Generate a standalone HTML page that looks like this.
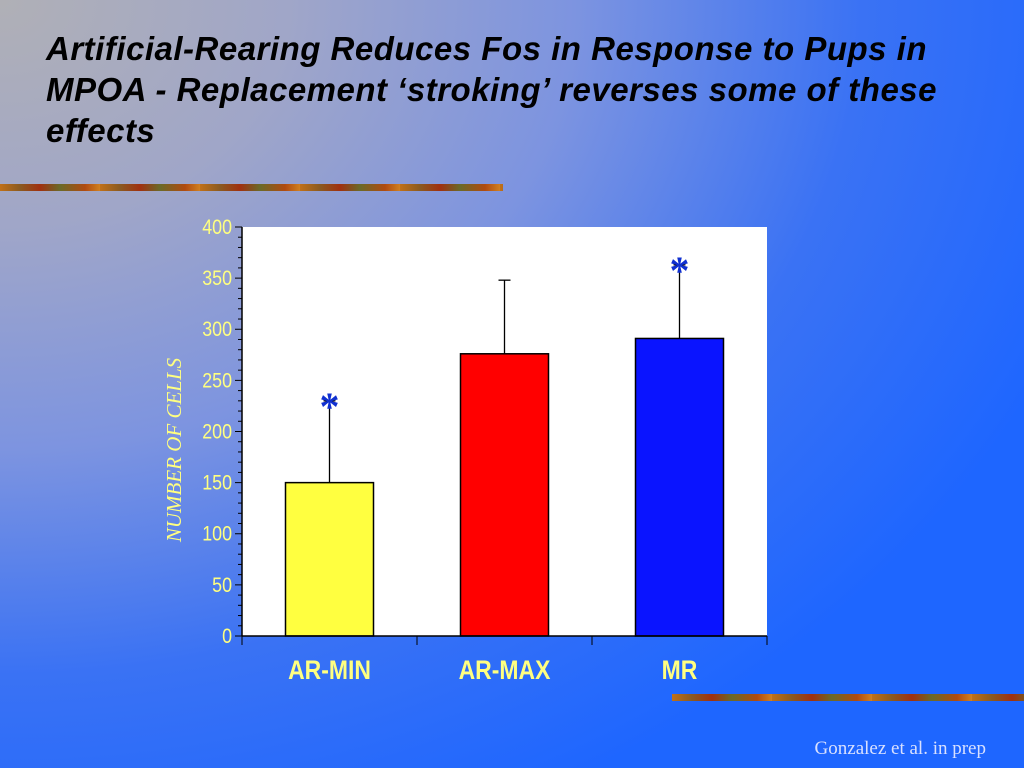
<!DOCTYPE html>
<html><head><meta charset="utf-8"><style>
html,body{margin:0;padding:0;width:1024px;height:768px;overflow:hidden}
body{background:radial-gradient(ellipse 1150px 900px at 0 0,#b0b0b6 0%,#a0a6c8 25%,#7d94e0 50%,#3a72f4 75%,#1e66ff 100%);position:relative;font-family:"Liberation Sans",sans-serif}
.title{position:absolute;left:46px;top:28px;width:940px;font-size:33px;line-height:41px;font-weight:bold;font-style:italic;color:#000;margin:0;letter-spacing:0.5px}
.band{position:absolute;height:7px;background:repeating-linear-gradient(90deg,#c07018 0,#8a5a20 20px,#a03010 40px,#6a6a28 60px,#b04a10 85px,#d08020 100px)}
.credit{position:absolute;right:38px;top:738px;font-family:"Liberation Serif",serif;font-size:19px;color:#d8e0ff}
</style></head><body>
<h1 class="title">Artificial-Rearing Reduces Fos in Response to Pups in MPOA - Replacement ‘stroking’ reverses some of these effects</h1>
<div class="band" style="left:0;top:184px;width:503px"></div>
<div class="band" style="left:672px;top:694px;width:352px"></div>
<svg id="chart" width="1024" height="768" style="position:absolute;left:0;top:0"></svg>
<div class="credit">Gonzalez et al. in prep</div>
<script>
const categories=["AR-MIN","AR-MAX","MR"];
const values=[150,276,291];
const errors=[230,348,363];
const colors=["#ffff40","#ff0000","#0a14ff"];
const significant=[true,false,true];
const yTicks=[0,50,100,150,200,250,300,350,400];
const NS="http://www.w3.org/2000/svg";
const svg=document.getElementById('chart');
const L=242,R=767,T=227,B=636,yMax=400;
const y=v=>B-(v/yMax)*(B-T);
const bandW=(R-L)/categories.length;
const xC=i=>L+bandW*(i+0.5);
function mk(tag,a,txt){const e=document.createElementNS(NS,tag);for(const k in a)e.setAttribute(k,a[k]);if(txt!==undefined)e.textContent=txt;svg.appendChild(e);return e;}
let e=mk('rect',{x:L,y:T,width:R-L,height:B-T,fill:'#fff'});


for(let v=0;v<=yMax;v+=10){const major=v%50===0;mk('line',{x1:L-(major?7:4),x2:L,y1:y(v),y2:y(v),stroke:'#000','stroke-width':1});}
yTicks.forEach(v=>{const tx=L-10;const t=mk('text',{x:tx,y:y(v)+7,'text-anchor':'end','font-size':21,fill:'#ffff80',transform:`translate(${tx} 0) scale(0.85 1) translate(${-tx} 0)`},v);

});
categories.forEach((c,i)=>{
 const cx=xC(i),w=88;
 mk('line',{x1:cx,x2:cx,y1:y(errors[i]),y2:y(values[i]),stroke:'#000','stroke-width':1.3});
 mk('line',{x1:cx-6,x2:cx+6,y1:y(errors[i]),y2:y(errors[i]),stroke:'#000','stroke-width':1.3});
 const b=mk('rect',{x:cx-w/2,y:y(values[i]),width:w,height:B-y(values[i]),fill:colors[i],stroke:'#000','stroke-width':1.5});
 
 
 if(significant[i]){const s=mk('text',{x:cx,y:y(errors[i])+19,'text-anchor':'middle','font-size':40,'font-weight':'bold',fill:'#1030d0','font-family':'Liberation Serif, serif'},'*');
 
 }
 const t=mk('text',{x:cx,y:679,'text-anchor':'middle','font-size':27,'font-weight':'bold',fill:'#ffff80',transform:`translate(${cx} 0) scale(0.85 1) translate(${-cx} 0)`},c);
 
 
});
for(let i=0;i<=categories.length;i++){const x=L+bandW*i;mk('line',{x1:x,x2:x,y1:B,y2:B+9,stroke:'#000','stroke-width':1});}
mk('line',{x1:L,x2:L,y1:T,y2:B,stroke:'#000','stroke-width':1.5});
mk('line',{x1:L,x2:R,y1:B,y2:B,stroke:'#000','stroke-width':1.5});
const yt=mk('text',{x:181,y:450,'text-anchor':'middle','font-size':21,'font-style':'italic',fill:'#ffff80','font-family':'Liberation Serif, serif',transform:'rotate(-90 181 450)'},'NUMBER OF CELLS');


</script>
</body></html>
